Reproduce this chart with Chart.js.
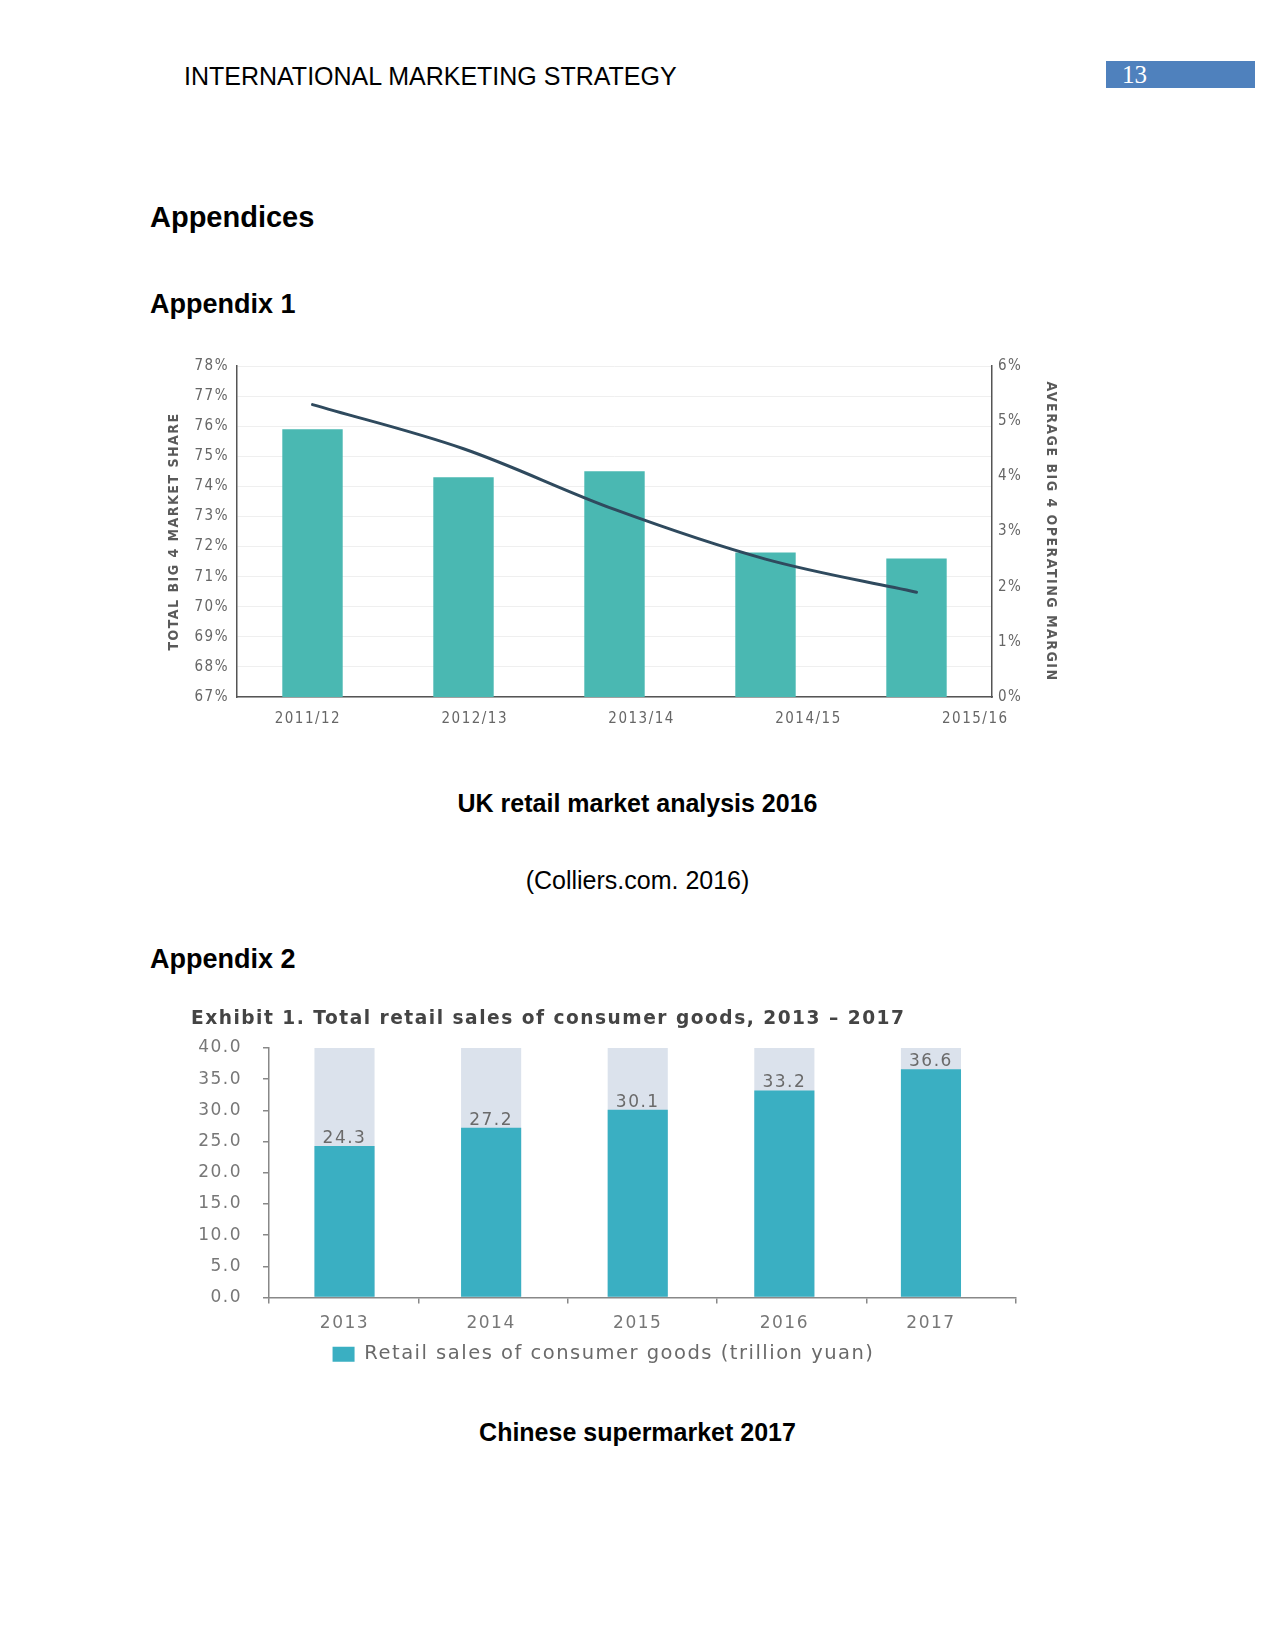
<!DOCTYPE html>
<html>
<head>
<meta charset="utf-8">
<title>Appendices</title>
<script src="https://cdn.jsdelivr.net/npm/chart.js@4.4.1/dist/chart.umd.min.js"></script>
<style>
  body { margin: 0; background: #fff; }
  #page { position: relative; width: 1275px; height: 1650px; font-family: "Liberation Sans", Arial, sans-serif; color: #000; }
  .t { position: absolute; white-space: nowrap; line-height: 30px; }
  .c { left: 0; width: 1275px; text-align: center; }
  .b { font-weight: bold; }
  #pageNo { position: absolute; left: 1106px; top: 61px; width: 149px; height: 27px; background: #4f81bd; }
  #pageNo span { position: absolute; left: 16px; top: 0; line-height: 28px; font: 25px "Liberation Serif", serif; color: #fff; }
  canvas { position: absolute; }
</style>
</head>
<body>
<div id="page">
  <div class="t" style="left:184px; top:61px; font-size:25px;">INTERNATIONAL MARKETING STRATEGY</div>
  <div id="pageNo"><span>13</span></div>

  <div class="t b" style="left:150px; top:202px; font-size:29px;">Appendices</div>
  <div class="t b" style="left:150px; top:289px; font-size:27px;">Appendix 1</div>

  <canvas id="ukChart" width="920" height="400" style="left:150px; top:340px;"></canvas>

  <div class="t c b" style="top:788px; font-size:25px;">UK retail market analysis 2016</div>
  <div class="t c" style="top:865px; font-size:25px;">(Colliers.com. 2016)</div>

  <div class="t b" style="left:150px; top:944px; font-size:27px;">Appendix 2</div>

  <canvas id="cnChart" width="866" height="379" style="left:180px; top:995px;"></canvas>

  <div class="t c b" style="top:1417px; font-size:25px;">Chinese supermarket 2017</div>
</div>

<script>
// Appendix 1 - UK big 4
const ukPeriods = ['2011/12', '2012/13', '2013/14', '2014/15', '2015/16'];
const marketShare = [75.9, 74.3, 74.5, 71.8, 71.6];      // left axis, %
const operatingMargin = [5.3, 4.5, 3.4, 2.5, 1.9];      // right axis, %
const shareTicks = { min: 67, max: 78, step: 1 };
const marginTicks = { min: 0, max: 6, step: 1 };

// Appendix 2 - China retail sales (trillion yuan)
const cnYears = ['2013', '2014', '2015', '2016', '2017'];
const retailSales = [24.3, 27.2, 30.1, 33.2, 36.6];
const salesTicks = { min: 0, max: 40, step: 5 };

// in the originals the labels / bars do not sit on the same spacing as the axis,
// so they get their own linear axes
const periodAxis = { start: 0.425, max: 4.525 };
const yearAxis = { min: -0.515, max: 4.58 };
const yearTickCount = 5;

const DIN = '"DejaVu Sans Condensed", "DejaVu Sans", sans-serif';
const SANS = '"DejaVu Sans", "Liberation Sans", sans-serif';

// canvas letterSpacing gets reset when the canvas is resized, so set it before layout and draw
function spacing(px) {
    return {
        id: 'spacing',
        beforeLayout(chart) { chart.ctx.letterSpacing = px; },
        beforeDraw(chart) { chart.ctx.letterSpacing = px; }
    };
}

function fixWidth(w) { return scale => { scale.width = w; }; }
function fixHeight(h) { return scale => { scale.height = h; }; }

/**
 * UK market share / operating margin
 */
new Chart(document.getElementById('ukChart'), {
    type: 'bar',
    data: {
        labels: ukPeriods,
        datasets: [
            {
                type: 'line',
                label: 'Average big 4 operating margin',
                data: operatingMargin,
                yAxisID: 'y2',
                xAxisID: 'x',
                borderColor: '#2f4a5e',
                borderWidth: 3,
                borderCapStyle: 'round',
                tension: 0.35,
                pointRadius: 0,
                fill: false
            },
            {
                label: 'Total big 4 market share',
                data: marketShare,
                yAxisID: 'y',
                xAxisID: 'x',
                backgroundColor: '#4ab8b2',
                barPercentage: 0.4,
                categoryPercentage: 1
            }
        ]
    },
    options: {
        responsive: false,
        animation: false,
        devicePixelRatio: 1,
        layout: { padding: { top: 26, left: 0, right: 0, bottom: 0 } },
        plugins: { legend: { display: false }, tooltip: { enabled: false } },
        scales: {
            x: { type: 'category', display: false, offset: true },
            xl: {
                type: 'linear',
                position: 'bottom',
                offset: false,
                min: 0,
                max: periodAxis.max,
                afterBuildTicks: scale => {
                    scale.ticks = ukPeriods.map((p, i) => ({ value: periodAxis.start + i }));
                },
                afterFit: fixHeight(43),
                grid: { display: false, drawTicks: false },
                border: { display: true, color: '#555', width: 1.5 },
                ticks: {
                    callback: (v, i) => ukPeriods[i],
                    color: '#666',
                    font: { family: DIN, size: 15 },
                    padding: 13,
                    maxRotation: 0,
                    autoSkip: false
                }
            },
            y: {
                position: 'left',
                min: shareTicks.min,
                max: shareTicks.max,
                afterFit: fixWidth(87),
                grid: { color: '#efefef', lineWidth: 1, drawTicks: false },
                border: { display: true, color: '#555', width: 1.5 },
                ticks: {
                    stepSize: shareTicks.step,
                    callback: v => v + '%',
                    color: '#666',
                    font: { family: DIN, size: 15 },
                    padding: 8
                },
                title: {
                    display: true,
                    text: 'TOTAL BIG 4 MARKET SHARE',
                    color: '#5a5a5a',
                    font: { family: DIN, size: 14, weight: 'bold' },
                    padding: { top: 16, bottom: 0 }
                }
            },
            y2: {
                position: 'right',
                min: marginTicks.min,
                max: marginTicks.max,
                afterFit: fixWidth(78),
                grid: { display: false, drawTicks: false },
                border: { display: true, color: '#555', width: 1.5 },
                ticks: {
                    stepSize: marginTicks.step,
                    callback: v => v + '%',
                    color: '#666',
                    font: { family: DIN, size: 15 },
                    padding: 6
                },
                title: {
                    display: true,
                    text: 'AVERAGE BIG 4 OPERATING MARGIN',
                    color: '#5a5a5a',
                    font: { family: DIN, size: 14, weight: 'bold' },
                    padding: { top: 11, bottom: 0 }
                }
            }
        }
    },
    plugins: [spacing('1.5px')]
});

/**
 * China retail sales with value labels over the bars
 */
const valueLabels = {
    id: 'valueLabels',
    afterDatasetsDraw(chart) {
        const ctx = chart.ctx;
        const meta = chart.getDatasetMeta(0);
        ctx.save();
        ctx.font = '17px ' + SANS;
        ctx.fillStyle = '#6a6a6a';
        ctx.textAlign = 'center';
        ctx.textBaseline = 'alphabetic';
        meta.data.forEach((bar, i) => {
            ctx.fillText(retailSales[i].toFixed(1), bar.x, bar.y - 3);
        });
        ctx.restore();
    }
};

new Chart(document.getElementById('cnChart'), {
    type: 'bar',
    data: {
        datasets: [
            {
                label: 'Retail sales of consumer goods (trillion yuan)',
                data: retailSales.map((v, i) => ({ x: i, y: v })),
                xAxisID: 'x',
                yAxisID: 'y',
                backgroundColor: '#3aafc2',
                barPercentage: 0.41,
                categoryPercentage: 1,
                order: 0
            },
            {
                label: 'backdrop',
                data: cnYears.map((yr, i) => ({ x: i, y: salesTicks.max })),
                xAxisID: 'x',
                yAxisID: 'y',
                backgroundColor: '#dbe2ec',
                barPercentage: 0.41,
                categoryPercentage: 1,
                order: 1
            }
        ]
    },
    options: {
        responsive: false,
        animation: false,
        devicePixelRatio: 1,
        layout: { padding: { top: 0, left: 11, right: 30, bottom: 0 } },
        datasets: { bar: { grouped: false } },
        plugins: {
            tooltip: { enabled: false },
            title: {
                display: true,
                text: 'Exhibit 1. Total retail sales of consumer goods, 2013 \u2013 2017',
                align: 'start',
                color: '#444',
                font: { family: SANS, size: 18.6, weight: 'bold' },
                padding: { top: 12.8, bottom: 17.9 }
            },
            legend: {
                position: 'bottom',
                labels: {
                    filter: item => item.datasetIndex === 0,
                    boxWidth: 22,
                    boxHeight: 15,
                    color: '#6a6a6a',
                    font: { family: SANS, size: 19.5 },
                    padding: 10
                }
            }
        },
        scales: {
            // bars and year labels
            x: {
                type: 'linear',
                position: 'bottom',
                weight: 1,
                offset: false,
                min: yearAxis.min,
                max: yearAxis.max,
                afterBuildTicks: scale => {
                    scale.ticks = cnYears.map((yr, i) => ({ value: i }));
                },
                afterFit: fixHeight(37),
                grid: { display: false, drawTicks: false, offset: false },
                border: { display: false },
                ticks: {
                    callback: (v, i) => cnYears[i],
                    color: '#777',
                    font: { family: SANS, size: 17 },
                    padding: 16,
                    maxRotation: 0,
                    autoSkip: false
                }
            },
            // axis line and tick marks between the years
            xt: {
                type: 'linear',
                position: 'bottom',
                weight: 0,
                offset: false,
                min: 0,
                max: yearTickCount,
                afterBuildTicks: scale => {
                    scale.ticks = Array.from({ length: yearTickCount + 1 }, (u, i) => ({ value: i }));
                },
                afterFit: fixHeight(0),
                grid: { display: true, offset: false, drawOnChartArea: false, drawTicks: true, tickLength: 6, color: '#888', lineWidth: 1.5 },
                border: { display: true, color: '#888', width: 1.5 },
                ticks: { display: false }
            },
            y: {
                min: salesTicks.min,
                max: salesTicks.max,
                afterFit: fixWidth(78),
                grid: { display: true, drawOnChartArea: false, drawTicks: true, tickLength: 6, color: '#888', lineWidth: 1.5 },
                border: { display: true, color: '#888', width: 1.5 },
                ticks: {
                    stepSize: salesTicks.step,
                    callback: v => v.toFixed(1),
                    color: '#777',
                    font: { family: SANS, size: 17 },
                    padding: 21
                }
            }
        }
    },
    plugins: [valueLabels, spacing('1.5px')]
});
</script>
</body>
</html>
